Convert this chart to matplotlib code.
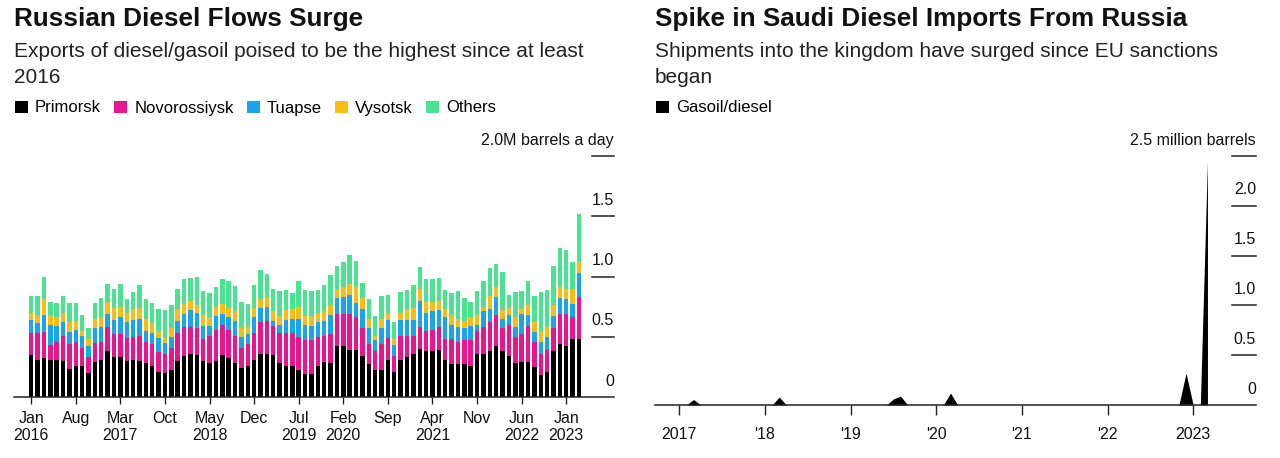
import numpy as np
import matplotlib
matplotlib.use("Agg")
import matplotlib.pyplot as plt
import matplotlib.transforms as mtransforms
from matplotlib.patches import Patch

plt.rcParams["font.family"] = ["Liberation Sans", "DejaVu Sans"]

# ---- left chart: Russian diesel exports by port, million barrels a day (Jan 2016 - Mar 2023)
ports = ["Primorsk", "Novorossiysk", "Tuapse", "Vysotsk", "Others"]
port_colors = ["#000000", "#e8168b", "#1ba3ec", "#fbbd14", "#4be291"]

primorsk = [.35, .31, .32, .31, .31, .30, .23, .26, .26, .20, .29, .31,
            .38, .33, .33, .30, .31, .30, .28, .26, .21, .20, .22, .30,
            .34, .36, .35, .30, .28, .30, .35, .32, .28, .24, .26, .31,
            .36, .36, .35, .28, .26, .26, .22, .19, .19, .26, .29, .28,
            .42, .42, .39, .39, .34, .27, .22, .22, .31, .21, .31, .33,
            .36, .40, .38, .38, .39, .31, .27, .27, .27, .26, .36, .36,
            .38, .42, .38, .34, .28, .29, .29, .25, .18, .21, .38, .44,
            .42, .48, .48]
novorossiysk = [.18, .22, .22, .12, .15, .21, .21, .20, .15, .13, .16, .15,
                .20, .19, .19, .19, .19, .21, .18, .18, .16, .16, .19, .23,
                .24, .22, .22, .18, .23, .26, .25, .24, .23, .17, .18, .22,
                .26, .27, .24, .25, .27, .27, .28, .28, .28, .24, .22, .24,
                .27, .27, .30, .27, .23, .17, .16, .22, .18, .13, .20, .18,
                .15, .18, .17, .18, .19, .17, .21, .19, .20, .21, .19, .22,
                .24, .26, .19, .26, .22, .23, .30, .21, .18, .18, .19, .25,
                .27, .18, .35]
tuapse = [.11, .08, .14, .17, .13, .11, .10, .10, .10, .09, .12, .12,
          .11, .12, .14, .13, .14, .14, .09, .09, .12, .09, .09, .10,
          .11, .14, .13, .11, .08, .11, .09, .10, .12, .09, .08, .13,
          .12, .12, .04, .07, .11, .12, .15, .13, .12, .12, .12, .16,
          .13, .14, .16, .12, .16, .13, .09, .13, .15, .09, .13, .13,
          .13, .22, .15, .15, .14, .18, .12, .12, .10, .12, .05, .13,
          .11, .15, .08, .08, .08, .17, .09, .08, .10, .11, .10, .13,
          .12, .11, .20]
vysotsk = [.06, .07, .13, .08, .07, .08, .08, .07, .04, .06, .08, .08,
           .10, .10, .09, .08, .09, .09, .10, .08, .06, .04, .07, .10,
           .08, .08, .06, .09, .07, .08, .08, .08, .08, .08, .06, .08,
           .07, .08, .08, .07, .08, .08, .10, .07, .08, .08, .08, .08,
           .08, .08, .09, .13, .09, .08, .04, .08, .06, .05, .06, .09,
           .10, .10, .09, .08, .08, .07, .08, .07, .06, .07, .08, .04,
           .11, .08, .07, .06, .08, .04, .08, .08, .08, .08, .09, .09,
           .09, .13, .09]
others = [.14, .16, .19, .11, .12, .14, .16, .15, .13, .09, .13, .16,
          .15, .16, .19, .11, .14, .19, .16, .17, .18, .23, .19, .17,
          .21, .19, .24, .20, .20, .16, .21, .22, .21, .21, .19, .19,
          .24, .19, .19, .21, .17, .13, .21, .22, .21, .19, .22, .25,
          .19, .21, .24, .22, .13, .16, .16, .19, .15, .14, .17, .16,
          .19, .18, .19, .19, .19, .16, .18, .23, .19, .13, .20, .21,
          .23, .19, .32, .11, .21, .15, .20, .22, .33, .31, .33, .33,
          .32, .22, .40]

left_ticks = [0, 7, 14, 21, 28, 35, 42, 49, 56, 63, 70, 77, 84]
left_ticklabels = ["Jan\n2016", "Aug", "Mar\n2017", "Oct", "May\n2018", "Dec",
                   "Jul\n2019", "Feb\n2020", "Sep", "Apr\n2021", "Nov",
                   "Jun\n2022", "Jan\n2023"]
left_yvals = [0, 0.5, 1.0, 1.5, 2.0]
left_ylabels = ["0", "0.5", "1.0", "1.5", "2.0M barrels a day"]

# ---- right chart: Saudi gasoil/diesel imports from Russia, million barrels (Jan 2017 - Mar 2023)
saudi = [0, 0, 0.055, 0, 0, 0, 0, 0, 0, 0, 0, 0,
         0, 0, 0.08, 0, 0, 0, 0, 0, 0, 0, 0, 0,
         0, 0, 0, 0, 0, 0, 0.06, 0.09, 0, 0, 0, 0,
         0, 0, 0.12, 0, 0, 0, 0, 0, 0, 0, 0, 0,
         0, 0, 0, 0, 0, 0, 0, 0, 0, 0, 0, 0,
         0, 0, 0, 0, 0, 0, 0, 0, 0, 0, 0, 0.32,
         0, 0, 2.45]
right_ticks = [0, 12, 24, 36, 48, 60, 72]
right_ticklabels = ["2017", "'18", "'19", "'20", "'21", "'22", "2023"]
right_yvals = [0, 0.5, 1.0, 1.5, 2.0, 2.5]
right_ylabels = ["0", "0.5", "1.0", "1.5", "2.0", "2.5 million barrels"]

W, H = 1280, 458
fig = plt.figure(figsize=(W / 100, H / 100), dpi=100)
txt = "#111111"


def style_axis(ax, yvals, ylabels, seg):
    for s in ["top", "left", "right"]:
        ax.spines[s].set_visible(False)
    ax.spines["bottom"].set_color("#222222")
    ax.spines["bottom"].set_linewidth(1.1)
    ax.set_yticks([])
    ax.tick_params(axis="x", length=5, width=1, color="#222222",
                   labelsize=11.5, labelcolor=txt, pad=5)
    trans = mtransforms.blended_transform_factory(ax.transAxes, ax.transData)
    for v, lab in zip(yvals, ylabels):
        if v > 0:
            ax.plot([1 - seg, 1], [v, v], transform=trans, color="#222222",
                    lw=1.1, clip_on=False)
        ax.annotate(lab, xy=(1, v), xycoords=trans, xytext=(0, 6),
                    textcoords="offset points", ha="right", va="bottom",
                    fontsize=11.5, color=txt)


# left panel
ax1 = fig.add_axes([14 / W, 61 / H, 600 / W, 241 / H])
x1 = np.arange(len(primorsk))
bottom = np.zeros(len(x1))
for name, vals, col in zip(ports, [primorsk, novorossiysk, tuapse, vysotsk, others], port_colors):
    ax1.bar(x1, vals, bottom=bottom, width=0.7, color=col, linewidth=0, label=name)
    bottom += np.array(vals)
ax1.set_xlim(-2.7, 91.5)
ax1.set_ylim(0, 2.0)
ax1.set_xticks(left_ticks)
ax1.set_xticklabels(left_ticklabels)
style_axis(ax1, left_yvals, left_ylabels, 22 / 600)

# right panel
ax2 = fig.add_axes([655 / W, 53 / H, 601 / W, 249 / H])
x2 = np.arange(len(saudi))
ax2.fill_between(x2, saudi, color="black", lw=0)
ax2.set_xlim(-3.4, 80.8)
ax2.set_ylim(0, 2.5)
ax2.set_xticks(right_ticks)
ax2.set_xticklabels(right_ticklabels)
style_axis(ax2, right_yvals, right_ylabels, 24 / 601)
ax2.tick_params(axis="x", length=7, pad=9)

# titles
fig.text(14 / W, 1 - 19 / H, "Russian Diesel Flows Surge", fontsize=18.8,
         fontweight="bold", color=txt, va="center", ha="left")
fig.text(14 / W, 1 - 42 / H, "Exports of diesel/gasoil poised to be the highest since at least\n2016",
         fontsize=15, color="#222222", va="top", ha="left", linespacing=1.45)
fig.text(655 / W, 1 - 19 / H, "Spike in Saudi Diesel Imports From Russia", fontsize=18.8,
         fontweight="bold", color=txt, va="center", ha="left")
fig.text(655 / W, 1 - 42 / H, "Shipments into the kingdom have surged since EU sanctions\nbegan",
         fontsize=15, color="#222222", va="top", ha="left", linespacing=1.45)

# legends
handles = [Patch(facecolor=c, edgecolor="none") for c in port_colors]
fig.legend(handles, ports, loc="center left", bbox_to_anchor=(15 / W, 1 - 108 / H),
           ncol=5, frameon=False, fontsize=12, handlelength=0.75, handleheight=0.75,
           handletextpad=0.45, columnspacing=0.8, borderaxespad=0, borderpad=0)
fig.legend([Patch(facecolor="black", edgecolor="none")], ["Gasoil/diesel"],
           loc="center left", bbox_to_anchor=(656 / W, 1 - 108 / H), frameon=False,
           fontsize=12, handlelength=0.75, handleheight=0.75, handletextpad=0.45,
           borderaxespad=0, borderpad=0)

fig.savefig("out.png", dpi=100, facecolor="white")
